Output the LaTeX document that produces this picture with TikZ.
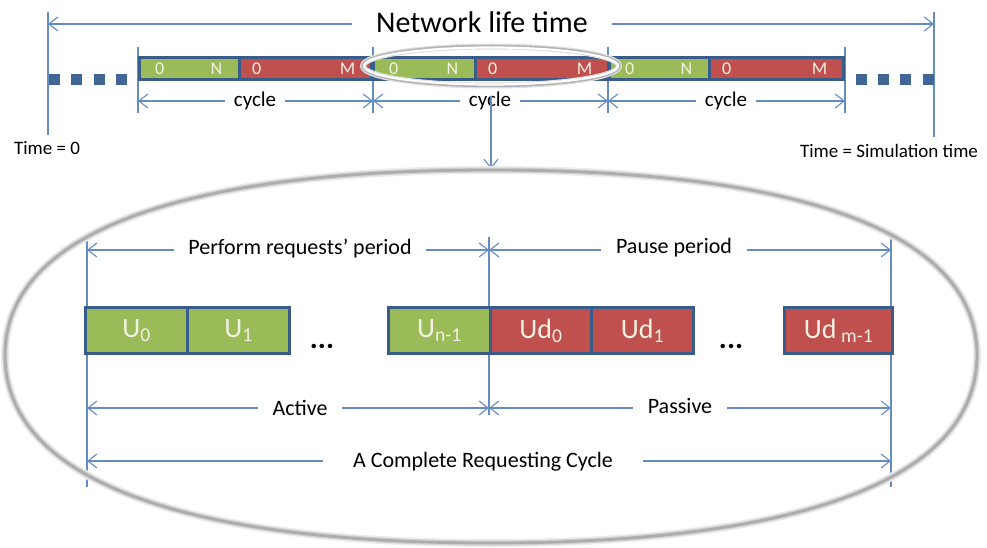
\documentclass[tikz,border=0pt]{standalone}
\usepackage{fontspec}
\setmainfont{Carlito}
\usetikzlibrary{arrows.meta}
\definecolor{gfill}{RGB}{155,187,89}
\definecolor{rfill}{RGB}{192,80,77}
\definecolor{bdark}{RGB}{56,93,138}
\definecolor{dimc}{RGB}{100,140,195}
\definecolor{celltxt}{RGB}{242,242,228}
\begin{document}
\begin{tikzpicture}[x=1pt,y=-1pt,
  barb/.tip={Straight Barb[length=9pt,width=14pt]},
  dimv/.style={draw=dimc, line width=1.1pt},
  dimarrow/.style={draw=dimc, line width=1.1pt, barb-barb},
  onearrow/.style={draw=dimc, line width=1.1pt, -barb},
  dimlab/.style={fill=white, inner ysep=1pt, text=black},
  gcell/.style={fill=gfill, inner sep=0pt, anchor=north west, minimum height=19pt},
  rcell/.style={fill=rfill, inner sep=0pt, anchor=north west, minimum height=19pt},
  ctext/.style={text=celltxt, font=\fontsize{18}{20}\selectfont, inner sep=0pt},
  gbox/.style={fill=gfill, draw=bdark, line width=3pt, anchor=north west, minimum height=46pt, inner sep=0pt, text=celltxt, font=\fontsize{28}{30}\selectfont},
  rbox/.style={fill=rfill, draw=bdark, line width=3pt, anchor=north west, minimum height=46pt, inner sep=0pt, text=celltxt, font=\fontsize{28}{30}\selectfont},
  sq/.style={fill=bdark!80!dimc, minimum size=11pt, inner sep=0pt},
  dotsl/.style={font=\fontsize{30}{32}\selectfont\bfseries, inner sep=0pt}
]
\useasboundingbox (0,0) rectangle (987,548);

% ---------- top: network life time ----------
\coordinate (vl0) at (48,12);   \coordinate (vl1) at (48,135);
\coordinate (vr0) at (934,12);  \coordinate (vr1) at (934,137);
\draw[dimv] (vl0) -- (vl1);
\draw[dimv] (vr0) -- (vr1);
\coordinate (nl) at (48,24); \coordinate (nr) at (934,24);
\draw[dimarrow] (nl) -- (nr);
\node[dimlab, inner xsep=24pt, font=\fontsize{30}{32}\selectfont] (nlt) at (482,22) {Network life time};

\node[font=\fontsize{19}{21}\selectfont, inner sep=0pt] (t0) at (47,148) {Time = 0};
\node[font=\fontsize{19}{21}\selectfont, inner sep=0pt] (tsim) at (889,151) {Time = Simulation time};

% dotted squares
\foreach \i/\x in {1/54,2/76.5,3/99,4/121.5}{\node[sq] (sl\i) at (\x,79.5) {};}
\foreach \i/\x in {1/861.5,2/883.5,3/905.5,4/928.5}{\node[sq] (sr\i) at (\x,79.5) {};}

% cycle ticks
\foreach \n/\x in {a/138,b/373,c/608,d/845}{
  \coordinate (tk\n0) at (\x,47); \coordinate (tk\n1) at (\x,113);
  \draw[dimv] (tk\n0) -- (tk\n1);
  \coordinate (cy\n) at (\x,101);
}

% bar
\node[fill=bdark, inner sep=0pt, anchor=north west, minimum width=707pt, minimum height=25pt] (bar) at (138,56) {};
\node[gcell, minimum width=97pt]  (g1) at (141,59) {};
\node[rcell, minimum width=129pt] (r1) at (241,59) {};
\node[gcell, minimum width=99pt]  (g2) at (375,59) {};
\node[rcell, minimum width=130pt] (r2) at (477,59) {};
\node[gcell, minimum width=97pt]  (g3) at (611,59) {};
\node[rcell, minimum width=131pt] (r3) at (711,59) {};
\foreach \c in {g1,g2,g3}{
  \node[ctext, anchor=west] (\c z) at ([xshift=14pt]\c.west) {0};
  \node[ctext, anchor=east] (\c n) at ([xshift=-16pt]\c.east) {N};
}
\foreach \c in {r1,r2,r3}{
  \node[ctext, anchor=west] (\c z) at ([xshift=11pt]\c.west) {0};
  \node[ctext, anchor=east] (\c m) at ([xshift=-15pt]\c.east) {M};
}

% cycle dimension arrows
\draw[dimarrow] (cya) -- (cyb);
\draw[dimarrow] (cyb) -- (cyc);
\draw[dimarrow] (cyc) -- (cyd);
\node[dimlab, inner xsep=9pt, font=\fontsize{21}{23}\selectfont] (c1) at (255,101) {cycle};
\node[dimlab, inner xsep=9pt, font=\fontsize{21}{23}\selectfont] (c2) at (490,101) {cycle};
\node[dimlab, inner xsep=9pt, font=\fontsize{21}{23}\selectfont] (c3) at (726,101) {cycle};

% small highlight ellipse
\draw[line width=6pt, black!12] (491,66) ellipse [x radius=128, y radius=19.5];
\draw[line width=3.5pt, black!30] (491,66) ellipse [x radius=128, y radius=19.5];
\draw[line width=2.2pt, white] (491,66) ellipse [x radius=127, y radius=18.5];

% down arrow
\coordinate (da0) at (491,96); \coordinate (da1) at (491,169);
\draw[onearrow] (da0) -- (da1);

% ---------- lower part ----------
\coordinate (L0) at (87,237);  \coordinate (L1) at (87,487);
\coordinate (M0) at (489,237); \coordinate (M1) at (489,415);
\coordinate (R0) at (891,237); \coordinate (R1) at (891,487);
\draw[dimv] (L0) -- (L1);
\draw[dimv] (M0) -- (M1);
\draw[dimv] (R0) -- (R1);

\coordinate (pa) at (87,250); \coordinate (pb) at (489,250); \coordinate (pc) at (891,250);
\draw[dimarrow] (pa) -- (pb);
\draw[dimarrow] (pb) -- (pc);
\node[dimlab, inner xsep=14pt, font=\fontsize{22}{24}\selectfont] (perf) at (300,249) {Perform requests’ period};
\node[dimlab, inner xsep=15pt, font=\fontsize{22}{24}\selectfont] (pause) at (674,248) {Pause period};

\node[gbox, minimum width=102pt] (u0) at (84,306) {U\textsubscript{0}};
\node[gbox, minimum width=102pt] (u1) at (186,306) {U\textsubscript{1}};
\node[gbox, minimum width=102pt] (un) at (387,306) {U\textsubscript{n-1}};
\node[rbox, minimum width=101pt] (d0) at (489,306) {Ud\textsubscript{0}};
\node[rbox, minimum width=102pt] (d1) at (590,306) {Ud\textsubscript{1}};
\node[rbox, minimum width=108pt] (dm) at (783,306) {Ud\,\textsubscript{m-1}};
\node[dotsl] (dots1) at (322,346) {...};
\node[dotsl] (dots2) at (731,346) {...};

\coordinate (aa) at (87,408); \coordinate (ab) at (489,408); \coordinate (ac) at (891,408);
\draw[dimarrow] (aa) -- (ab);
\draw[dimarrow] (ab) -- (ac);
\node[dimlab, inner xsep=15pt, font=\fontsize{22}{24}\selectfont] (act) at (300,408) {Active};
\node[dimlab, inner xsep=15pt, font=\fontsize{22}{24}\selectfont] (pas) at (680,406) {Passive};

\coordinate (ca) at (87,461); \coordinate (cb) at (891,461);
\draw[dimarrow] (ca) -- (cb);
\node[dimlab, inner xsep=30pt, font=\fontsize{22}{24}\selectfont] (comp) at (483,462) {A Complete Requesting Cycle};

% big ellipse
\def\bigell{(5,355) .. controls (5,235) and (175,170) .. (491,170) .. controls (807,170) and (977,235) .. (977,355) .. controls (977,477) and (807,543) .. (491,543) .. controls (175,543) and (5,477) .. (5,355) -- cycle}
\draw[line width=8pt, black!8] \bigell;
\draw[line width=5pt, black!18] \bigell;
\draw[line width=2.8pt, black!32] \bigell;
\end{tikzpicture}
\end{document}
